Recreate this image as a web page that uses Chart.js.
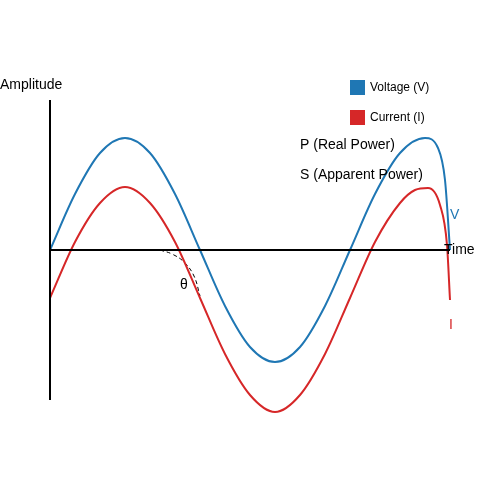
<!DOCTYPE html>
<html><head><meta charset="utf-8">
<script src="https://cdn.jsdelivr.net/npm/chart.js@4"></script>
<style>html,body{margin:0;padding:0;background:#fff}</style>
</head><body>
<canvas id="c" width="500" height="500"></canvas>
<script>
const voltageX = [50,75,100,125,150,175,200,225,250,275,300,325,350,375,400,425,438,445,450];
const voltageY = [250,194,153,138,153,194,250,306,347,362,347,306,250,194,153,138,148,180,250];
const currentX = [50,75,100,125,150,175,200,225,250,275,300,325,350,375,400,415,428,440,447,450];
const currentY = [298,242,203,187,203,242,298,354,395,412,395,354,298,242,203,190,188,205,245,300];
const angleX = [160,172,184,194,200];
const angleY = [250,254,262,276,296];
const pts=(xs,ys)=>xs.map((x,i)=>({x,y:ys[i]}));
const labels = {
  yAxis:'Amplitude', xAxis:'Time', v:'V', i:'I', theta:'θ',
  legend:['Voltage (V)','Current (I)'], notes:['P (Real Power)','S (Apparent Power)']
};
const textPlugin={id:'txt',afterDraw(ch){
  const c=ch.ctx, xs=ch.scales.x, ys=ch.scales.y;
  const X=v=>xs.getPixelForValue(v), Y=v=>ys.getPixelForValue(v);
  c.save(); c.textBaseline='middle'; c.font='14px "Liberation Sans", Arial, sans-serif';
  c.fillStyle='#000'; c.fillText(labels.yAxis,X(0),Y(85));
  c.fillText(labels.xAxis,X(444),Y(250));
  c.fillText(labels.theta,X(180),Y(285));
  c.fillText(labels.notes[0],X(300),Y(145));
  c.fillText(labels.notes[1],X(300),Y(175));
  c.fillStyle='#1f77b4'; c.fillText(labels.v,X(450),Y(215));
  c.fillStyle='#d62728'; c.fillText(labels.i,X(449),Y(325));
  c.font='12px "Liberation Sans", Arial, sans-serif';
  c.fillStyle='#1f77b4'; c.fillRect(X(350),Y(80),15,15);
  c.fillStyle='#d62728'; c.fillRect(X(350),Y(110),15,15);
  c.fillStyle='#000'; c.fillText(labels.legend[0],X(370),Y(88)); c.fillText(labels.legend[1],X(370),Y(118));
  c.restore();
}};
new Chart(document.getElementById('c'),{
  type:'line',
  data:{datasets:[
    {data:pts([50,50],[100,400]),borderColor:'#000',borderWidth:2},
    {data:pts([50,450],[250,250]),borderColor:'#000',borderWidth:2},
    {data:pts(voltageX,voltageY),borderColor:'#1f77b4',borderWidth:2,cubicInterpolationMode:'monotone'},
    {data:pts(currentX,currentY),borderColor:'#d62728',borderWidth:2,cubicInterpolationMode:'monotone'},
    {data:pts(angleX,angleY),borderColor:'#000',borderWidth:1,borderDash:[4,3],tension:0.4}
  ]},
  options:{responsive:false,animation:false,devicePixelRatio:1,
    layout:{padding:0},
    elements:{point:{radius:0}},
    plugins:{legend:{display:false},tooltip:{enabled:false}},
    scales:{x:{type:'linear',min:0,max:500,display:false},
            y:{type:'linear',min:0,max:500,reverse:true,display:false}}},
  plugins:[textPlugin]
});
</script></body></html>
